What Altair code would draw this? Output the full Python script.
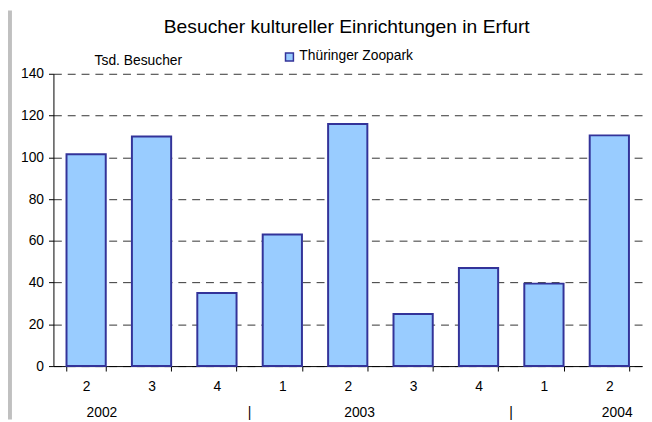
import altair as alt
import pandas as pd

# ---- data -------------------------------------------------------------
quarters = ["2", "3", "4", "1", "2", "3", "4", "1", "2"]
years = ["2002", "2002", "2002", "2003", "2003", "2003", "2003", "2004", "2004"]
visitors = [101.5, 110, 35, 63, 116, 25, 47, 39.5, 110.5]
series_name = "Thüringer Zoopark"
y_ticks = [0, 20, 40, 60, 80, 100, 120, 140]
y_title = "Tsd. Besucher"
chart_title = "Besucher kultureller Einrichtungen in Erfurt"

year_labels = ["2002", "2003", "2004"]
year_anchor = ["2002 Q2", "2003 Q2", "2004 Q2"]
separator_anchor = ["2002 Q4", "2003 Q4"]

keys = [f"{y} Q{q}" for y, q in zip(years, quarters)]
df = pd.DataFrame({"key": keys, "visitors": visitors, "series": series_name})

FONT = "Liberation Sans"
FS = 14

x_scale = alt.Scale(domain=keys, paddingInner=0.4, paddingOuter=0.2)

bars = alt.Chart(df).mark_bar(stroke="#333399", strokeWidth=2, fill="#99CCFF").encode(
    x=alt.X(
        "key:N",
        scale=x_scale,
        title=None,
        axis=alt.Axis(
            labelExpr="datum.value == null ? '' : slice('' + datum.value, -1)",
            labelAngle=0,
            tickBand="extent",
            tickSize=5,
            labelPadding=9,
            domainColor="#000000",
            tickColor="#000000",
            labelColor="#000000",
            labelFont=FONT,
            labelFontSize=FS,
            grid=False,
        ),
    ),
    y=alt.Y(
        "visitors:Q",
        scale=alt.Scale(domain=[0, 140], nice=False),
        title=None,
        axis=alt.Axis(
            values=y_ticks,
            grid=True,
            gridDash=[8, 6],
            gridColor="#333333",
            gridWidth=1,
            tickSize=5,
            labelPadding=5,
            domainColor="#000000",
            tickColor="#000000",
            labelColor="#000000",
            labelFont=FONT,
            labelFontSize=FS,
        ),
    ),
)

def label_text(txt, size, **kw):
    return (
        alt.Chart(pd.DataFrame({"label": [txt]}))
        .mark_text(font=FONT, fontSize=size, color="#000000", baseline="alphabetic", **kw)
    )

ytitle_layer = label_text(y_title, FS, align="center").encode(
    x=alt.value(86), y=alt.value(-9), text="label:N"
)
title_layer = label_text(chart_title, 19.5, align="center").encode(
    x=alt.value(297), y=alt.value(-41), text="label:N"
)
legend_text = label_text(series_name, FS, align="left").encode(
    x=alt.value(249), y=alt.value(-14), text="label:N"
)
legend_symbol = (
    alt.Chart(pd.DataFrame({"label": [series_name]}))
    .mark_square(size=64, fill="#99CCFF", stroke="#333399", strokeWidth=1.5, opacity=1)
    .encode(x=alt.value(239), y=alt.value(-17))
)

year_offsets = [16, 12, 8]
year_layers = [
    alt.Chart(pd.DataFrame({"key": [a], "label": [t]}))
    .mark_text(dx=d, baseline="alphabetic", font=FONT, fontSize=FS, color="#000000")
    .encode(x=alt.X("key:N"), y=alt.value(348), text="label:N")
    for a, t, d in zip(year_anchor, year_labels, year_offsets)
]

sep_layer = (
    alt.Chart(pd.DataFrame({"key": separator_anchor, "label": ["|", "|"]}))
    .mark_text(dx=33, baseline="alphabetic", font=FONT, fontSize=FS, color="#000000")
    .encode(x=alt.X("key:N"), y=alt.value(348), text="label:N")
)

strip = alt.Chart(pd.DataFrame({"a": [0]})).mark_rect(color="#C0C0C0").encode(
    x=alt.value(-46), x2=alt.value(-42), y=alt.value(-64), y2=alt.value(350)
)

chart = (
    alt.layer(
        strip, bars, ytitle_layer, title_layer, legend_symbol, legend_text, *year_layers, sep_layer
    )
    .properties(
        width=596,
        height=296,
        autosize=alt.AutoSizeParams(type="none"),
        padding={"left": 46, "top": 64, "right": 2, "bottom": 54},
    )
    .configure_view(stroke=None)
)

chart.save("out.html", embed_options={"renderer": "svg", "actions": False})
